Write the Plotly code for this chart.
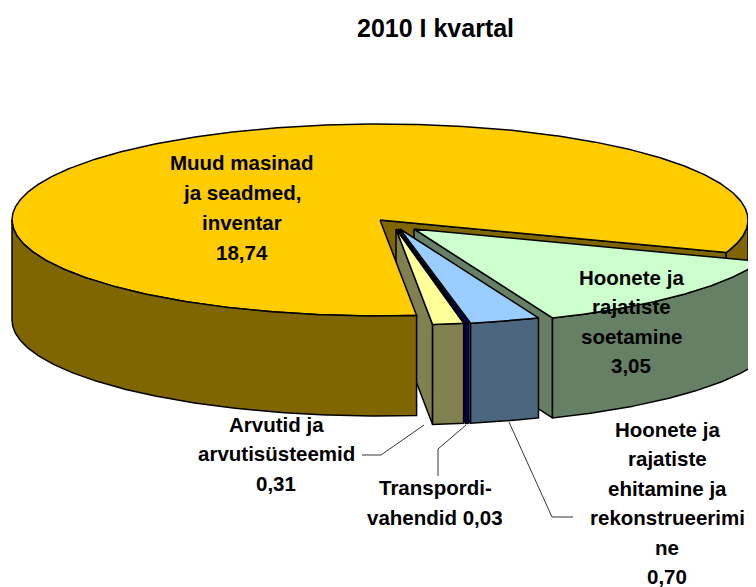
import numpy as np
import plotly.graph_objects as go

# dados do grafico
categorias = ["Muud masinad ja seadmed, inventar", "Hoonete ja rajatiste soetamine",
              "Hoonete ja rajatiste ehitamine ja rekonstrueerimine",
              "Transpordivahendid", "Arvutid ja arvutisüsteemid"]
valores = [18.74, 3.05, 0.70, 0.03, 0.31]
cores_topo = ["#FFCC00", "#CCFFCC", "#99CCFF", "#0000FF", "#FFFF99"]
cores_lado = ["#806600", "#668066", "#4D6680", "#000080", "#808050"]
titulo = "2010 I kvartal"

rotulo_muud = ["Muud masinad", "ja seadmed,", "inventar", "18,74"]
rotulo_soetamine = ["Hoonete ja", "rajatiste", "soetamine", "3,05"]
rotulo_ehitamine = ["Hoonete ja", "rajatiste", "ehitamine ja", "rekonstrueerimi", "ne", "0,70"]
rotulo_transport = ["Transpordi-", "vahendid 0,03"]
rotulo_arvutid = ["Arvutid ja", "arvutisüsteemid", "0,31"]

# geometria da pizza 3D (em pixels da pagina)
CX, CY = 380, 220
RX, RY = 368, 96
ALTURA = 100
INICIO = 19.8
# deslocamento de cada fatia em relacao ao centro (explode)
explode = [(0, 0), (34, 9), (20, 9), (18, 9), (16, 9)]
# a pagina tem margem de 8 px no body
MARGEM = 8

fatias = []
ang = INICIO
for v in valores[1:]:
    fim = ang + v / sum(valores) * 360
    fatias.append((ang, fim))
    ang = fim
fatias.insert(0, (ang, INICIO + 360))


def borda(a0, a1, ox=0, oy=0):
    t = np.radians(np.linspace(a0, a1, max(int(abs(a1 - a0)) * 2, 2)))
    return CX + ox + RX * np.cos(t), CY + oy + RY * np.sin(t)


fig = go.Figure()


def poligono(x, y, cor):
    fig.add_trace(go.Scatter(x=list(x), y=list(y), mode="lines", fill="toself", fillcolor=cor,
                             line=dict(color="black", width=1.5), hoverinfo="skip", showlegend=False))


def parede_arco(a0, a1, ox, oy, cor):
    x, y = borda(a0, a1, ox, oy)
    poligono(np.r_[x, x[::-1], x[0]], np.r_[y, y[::-1] + ALTURA, y[0]], cor)


def parede_corte(a, ox, oy, cor):
    x, y = borda(a, a, ox, oy)
    ax, ay = CX + ox, CY + oy
    poligono([ax, x[0], x[0], ax, ax], [ay, y[0], y[0] + ALTURA, ay + ALTURA, ay], cor)


def topo(a0, a1, ox, oy, cor):
    x, y = borda(a0, a1, ox, oy)
    ax, ay = CX + ox, CY + oy
    poligono(np.r_[ax, x, ax], np.r_[ay, y, ay], cor)


# 1. fundo da fatia grande
a0, a1 = fatias[0]
parede_corte(a1, 0, 0, cores_lado[0])
parede_arco(360, a1, 0, 0, cores_lado[0])

# 2. fatias pequenas, da direita para a esquerda
for i in [1, 2, 3, 4]:
    s0, s1 = fatias[i]
    ox, oy = explode[i]
    parede_corte(s1, ox, oy, cores_lado[i])
    parede_arco(s0, s1, ox, oy, cores_lado[i])
    topo(s0, s1, ox, oy, cores_topo[i])

# 3. frente da fatia grande
topo(a0, a1, 0, 0, cores_topo[0])
parede_arco(a0, 180, 0, 0, cores_lado[0])

# linhas de chamada
linhas = [
    ([424, 381, 362], [425, 455, 455]),
    ([466, 438, 438], [425, 449, 476]),
    ([509, 552, 573], [422, 517, 517]),
]
for lx, ly in linhas:
    fig.add_trace(go.Scatter(x=lx, y=ly, mode="lines", line=dict(color="black", width=0.8),
                             hoverinfo="skip", showlegend=False))

# rotulos, uma anotacao por linha
blocos = [
    (rotulo_muud, 242, 162, 30),
    (rotulo_soetamine, 631, 277, 29.5),
    (rotulo_ehitamine, 667, 429, 29.5),
    (rotulo_transport, 435, 487, 30),
    (rotulo_arvutid, 276, 424, 29.5),
]
for textos, x, y0, passo in blocos:
    for n, t in enumerate(textos):
        fig.add_annotation(x=x, y=y0 + n * passo, text=f"<b>{t}</b>", showarrow=False,
                           font=dict(family="Liberation Sans", size=20.5, color="black"))
fig.add_annotation(x=435, y=28, text=f"<b>{titulo}</b>", showarrow=False,
                   font=dict(family="Liberation Sans", size=25, color="black"))

fig.update_xaxes(range=[MARGEM, 756], visible=False, fixedrange=True)
fig.update_yaxes(range=[587, MARGEM], visible=False, fixedrange=True)
fig.update_layout(width=756 - MARGEM, height=587 - MARGEM, margin=dict(l=0, r=0, t=0, b=0),
                  paper_bgcolor="white", plot_bgcolor="white")

fig.write_html("out.html")
